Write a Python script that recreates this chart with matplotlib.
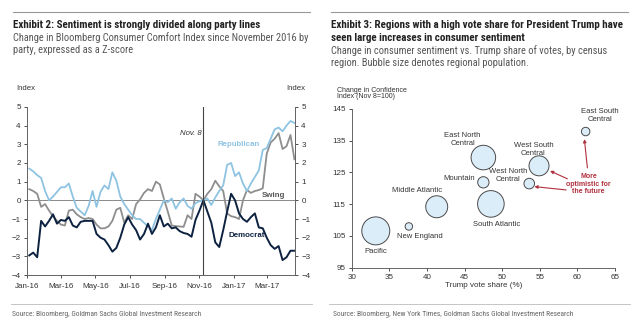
import numpy as np
import pandas as pd
import matplotlib
matplotlib.use("Agg")
import matplotlib.pyplot as plt
import matplotlib.dates as mdates
from matplotlib.lines import Line2D

plt.rcParams['font.family'] = ['Liberation Sans', 'DejaVu Sans']
NARROW = ['Roboto Condensed', 'DejaVu Sans']

# weekly z-scores, change since Nov 8 2016
weeks = pd.date_range('2016-01-05', periods=68, freq='7D')
republican = [1.7, 1.55, 1.35, 1.2, 0.5, 0.0, 0.2, 0.45, 0.7, 0.7, 0.9, 0.2, -0.4, -0.6, -0.8, -0.3,
              0.5, -0.35, 0.45, 0.8, 0.6, 1.5, 1.05, 0.2, -0.2, -0.5, -0.8, -1.0, -1.0, -1.2, -1.4, -1.6,
              -1.0, -0.5, 0.0, -0.1, 0.1, -0.45, -0.1, 0.1, -0.3, -0.45, -0.15, -0.05, 0.0, 0.1, -0.25, 0.15,
              0.5, 0.8, 1.9, 2.0, 1.3, 1.5, 0.9, 0.5, 0.9, 1.25, 1.6, 2.7, 2.8, 3.3, 3.8, 3.9,
              3.7, 4.0, 4.25, 4.15]
swing = [0.6, 0.5, 0.35, -0.35, -0.2, -0.55, -0.85, -1.1, -1.3, -1.35, -0.55, -0.5, -0.75, -0.9, -1.0, -0.95,
         -1.0, -1.3, -1.5, -1.5, -1.4, -1.1, -0.5, -0.4, -1.2, -0.8, -1.0, -0.2, 0.05, 0.4, 0.6, 0.5,
         1.0, 0.85, 0.1, -0.6, -1.35, -1.38, -1.4, -1.42, -0.8, -1.0, 0.35, 0.2, 0.0, 0.35, 0.6, 1.05,
         0.75, 0.5, -0.7, -0.85, -0.9, -1.0, 0.0, 0.55, 0.4, 0.5, 0.55, 0.65, 2.5, 3.1, 3.3, 3.6,
         2.75, 2.9, 3.5, 2.2]
democrat = [-2.95, -2.8, -3.05, -1.1, -1.4, -1.1, -0.75, -1.25, -1.05, -1.1, -0.9, -1.35, -1.45, -1.15, -1.1, -1.1,
            -1.1, -1.8, -2.0, -2.1, -2.4, -2.75, -2.55, -2.0, -1.3, -0.9, -1.3, -1.6, -2.1, -1.8, -1.25, -1.8,
            -1.45, -0.8, -1.4, -1.25, -1.5, -1.45, -1.65, -1.75, -1.8, -1.95, -1.05, -0.55, 0.0, -0.6, -1.2, -2.25,
            -2.5, -1.6, -0.6, 0.35, 0.0, -0.7, -1.0, -1.15, -0.9, -0.7, -1.45, -1.5, -2.0, -2.4, -2.6, -2.45,
            -3.2, -3.05, -2.7, -2.7]

# census regions: Trump vote share vs change in confidence
regions = ['Pacific', 'New England', 'Middle Atlantic', 'Mountain', 'East North\nCentral',
           'South Atlantic', 'West North\nCentral', 'West South\nCentral', 'East South\nCentral']
vote_share = [33.2, 37.6, 41.3, 47.5, 47.5, 48.5, 53.6, 54.9, 61.1]
confidence = [106.6, 108.0, 114.2, 121.9, 129.7, 115.1, 121.5, 127.1, 137.9]
bubble_size = [196, 14, 121, 32, 151, 177, 28, 100, 18]

W, H = 640, 321
fig = plt.figure(figsize=(W / 100, H / 100), dpi=100)

def fx(px):
    return px / W

def fy(py):
    return 1 - py / H

txt_gray = '#555555'
title_col = '#222222'

# headers and footers
for x0, x1 in [(13, 310), (331, 628)]:
    fig.add_artist(Line2D([fx(x0), fx(x1)], [fy(12), fy(12)], color='#999999', lw=0.8))
    fig.add_artist(Line2D([fx(x0 - 2), fx(x1 + 2)], [fy(304), fy(304)], color='#bbbbbb', lw=0.6))

def header(x, y, s, bold=False):
    fig.text(fx(x), fy(y), s, fontsize=7.9 if bold else 7.45, family=NARROW,
             fontweight='bold' if bold else 'normal', color=title_col if bold else txt_gray, va='center')

header(13, 25, 'Exhibit 2: Sentiment is strongly divided along party lines', bold=True)
header(13, 37.5, 'Change in Bloomberg Consumer Comfort Index since November 2016 by')
header(13, 50, 'party, expressed as a Z-score')

header(331, 25, 'Exhibit 3: Regions with a high vote share for President Trump have', bold=True)
header(331, 37.7, 'seen large increases in consumer sentiment', bold=True)
header(331, 50.5, 'Change in consumer sentiment vs. Trump share of votes, by census')
header(331, 63.3, 'region. Bubble size denotes regional population.')

fig.text(fx(12), fy(315), 'Source: Bloomberg, Goldman Sachs Global Investment Research',
         fontsize=5.4, family=NARROW, color='#666666', va='center')
fig.text(fx(333), fy(315), 'Source: Bloomberg, New York Times, Goldman Sachs Global Investment Research',
         fontsize=5.4, family=NARROW, color='#666666', va='center')

# ---- left panel: line chart ----
ax = fig.add_axes([fx(27), fy(275), fx(295) - fx(27), fy(107) - fy(275)])
ax.plot(weeks, swing, color='#8e8e8e', lw=1.3)
ax.plot(weeks, republican, color='#8ec3e2', lw=1.3)
ax.plot(weeks, democrat, color='#0d2240', lw=1.4)
ax.axhline(0, color='#777777', lw=0.6, zorder=0)
ax.axvline(pd.Timestamp('2016-11-08'), color='#444444', lw=0.8)

ax.set_xlim(pd.Timestamp('2016-01-01'), pd.Timestamp('2017-04-19'))
ax.set_ylim(-4, 5)
ax.set_yticks(range(-4, 6))
ax.xaxis.set_major_locator(mdates.MonthLocator(bymonth=[1, 3, 5, 7, 9, 11]))
ax.xaxis.set_major_formatter(mdates.DateFormatter('%b-%y'))

ax2 = ax.twinx()
ax2.set_ylim(-4, 5)
ax2.set_yticks(range(-4, 6))

for a in (ax, ax2):
    a.tick_params(labelsize=5.8, colors='#333333', length=2.5, width=0.6, pad=2)
    a.spines['top'].set_visible(False)
    for s in ('left', 'right', 'bottom'):
        a.spines[s].set_color('#666666')
        a.spines[s].set_linewidth(0.7)
ax.tick_params(axis='x', pad=3)

ax.text(pd.Timestamp('2016-11-05'), 3.6, 'Nov. 8', style='italic', fontsize=5.6, color='#333333',
        ha='right', va='center')
ax.text(pd.Timestamp('2017-01-09'), 3.0, 'Republican', fontsize=5.7, fontweight='bold', color='#8ec3e2',
        ha='center', va='center')
ax.text(pd.Timestamp('2017-03-12'), 0.27, 'Swing', fontsize=5.7, fontweight='bold', color='#555555',
        ha='center', va='center')
ax.text(pd.Timestamp('2017-01-24'), -1.9, 'Democrat', fontsize=5.7, fontweight='bold', color='#0d2240',
        ha='center', va='center')

fig.text(fx(16), fy(89), 'Index', fontsize=5.6, color='#333333', va='center')
fig.text(fx(305), fy(89), 'Index', fontsize=5.6, color='#333333', va='center', ha='right')

# ---- right panel: bubble chart ----
bx = fig.add_axes([fx(351.7), fy(267.7), fx(615) - fx(351.7), fy(109) - fy(267.7)])
bx.scatter(vote_share, confidence, s=np.array(bubble_size) * 2.07, facecolor='#dcedfa',
           edgecolor='#4a4a4a', linewidth=0.7, zorder=3)
bx.set_xlim(30, 65)
bx.set_ylim(95, 145)
bx.set_xticks(range(30, 66, 5))
bx.set_yticks(range(95, 146, 10))
bx.tick_params(labelsize=5.8, colors='#333333', length=2.5, width=0.6, pad=2)
for s in ('top', 'right'):
    bx.spines[s].set_visible(False)
for s in ('left', 'bottom'):
    bx.spines[s].set_color('#666666')
    bx.spines[s].set_linewidth(0.7)
bx.set_xlabel('Trump vote share (%)', fontsize=5.8, color='#333333', labelpad=1)

fig.text(fx(336.7), fy(90.7), 'Change in Confidence', fontsize=5.0, color='#333333', va='center')
fig.text(fx(336.7), fy(96.9), 'Index (Nov 8=100)', fontsize=5.0, color='#333333', va='center')

# label offsets in points from each bubble centre
label_pos = {
    'Pacific': (0, -15, 'center'),
    'New England': (8, -7.5, 'center'),
    'Middle Atlantic': (-14, 11.5, 'center'),
    'Mountain': (-6, 2.5, 'right'),
    'East North\nCentral': (-15, 13, 'center'),
    'South Atlantic': (4.5, -14.5, 'center'),
    'West North\nCentral': (-15, 6, 'center'),
    'West South\nCentral': (-4, 12, 'center'),
    'East South\nCentral': (10, 11.5, 'center'),
}
for name, x, y in zip(regions, vote_share, confidence):
    dx, dy, ha = label_pos[name]
    bx.annotate(name, (x, y), xytext=(dx, dy), textcoords='offset points', fontsize=5.5,
                color='#333333', ha=ha, va='center', linespacing=1.15)

# call-out for the three high-share southern/central regions
red = '#b0303e'
bx.text(61.5, 121.3, 'More\noptimistic for\nthe future', fontsize=5.0, fontweight='bold', color=red,
        ha='center', va='center', linespacing=1.12)
arrow = dict(arrowstyle='-|>', color=red, lw=0.8, mutation_scale=4.5, shrinkA=0, shrinkB=0)
bx.annotate('', xy=(vote_share[8] - 0.17, confidence[8] - 2.4), xytext=(61.33, 126.45), arrowprops=arrow)
bx.annotate('', xy=(vote_share[7] + 1.47, confidence[7] - 1.6), xytext=(58.67, 123.0), arrowprops=arrow)
bx.annotate('', xy=(vote_share[6] + 0.68, confidence[6] - 0.95), xytext=(58.5, 119.5), arrowprops=arrow)

fig.savefig('out.png', dpi=100)
